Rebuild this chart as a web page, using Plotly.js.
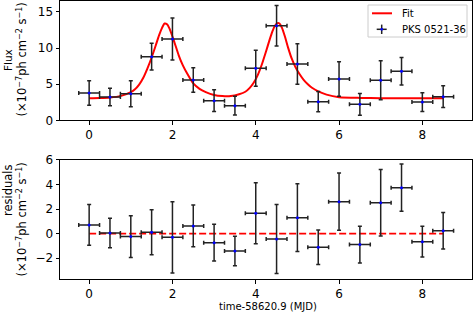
<!DOCTYPE html>
<html>
<head>
<meta charset="utf-8">
<script src="https://cdn.plot.ly/plotly-3.0.1.min.js"></script>
<style>html,body{margin:0;padding:0;background:#fff;}#chart{width:473px;height:313px;}</style>
</head>
<body>
<div id="chart"></div>
<script>
// ---- data ----
const timeX = [0, 0.5, 1, 1.5, 2, 2.5, 3, 3.5, 4, 4.5, 5, 5.5, 6, 6.5, 7, 7.5, 8, 8.5];
const timeErr = 0.25;
const flux = [3.78, 3.23, 3.69, 8.81, 11.26, 5.58, 2.72, 2.02, 7.2, 13.1, 7.8, 2.58, 5.72, 2.21, 5.54, 6.79, 2.53, 3.27];
const fluxErr = [1.7, 1.2, 1.8, 1.85, 2.9, 1.7, 1.5, 1.3, 2.5, 2.8, 2.8, 1.4, 2.4, 1.5, 2.7, 1.9, 1.3, 1.5];
const residuals = [0.71, 0.06, -0.24, 0.11, -0.3, 0.63, -0.73, -1.41, 1.66, -0.43, 1.3, -1.11, 2.6, -0.89, 2.52, 3.74, -0.65, 0.24];
const residErr = [1.66, 1.2, 1.7, 1.83, 2.9, 1.7, 1.5, 1.2, 2.47, 2.8, 2.75, 1.4, 2.33, 1.5, 2.7, 1.92, 1.25, 1.48];
const fitX = [0, 0.25, 0.5, 0.75, 1.0, 1.1, 1.2, 1.3, 1.4, 1.5, 1.6, 1.68, 1.75, 1.81, 1.87, 1.93, 2.0, 2.07, 2.15, 2.25, 2.35, 2.5, 2.65, 2.8, 3.0, 3.2, 3.4, 3.6, 3.75, 3.85, 3.95, 4.05, 4.15, 4.25, 4.33, 4.4, 4.46, 4.52, 4.57, 4.63, 4.7, 4.78, 4.86, 4.95, 5.05, 5.15, 5.25, 5.35, 5.5, 5.7, 6.0, 6.5, 7.0, 7.5, 8.0, 8.5];
const fitY = [3.05, 3.08, 3.15, 3.35, 3.9, 4.3, 4.95, 5.9, 7.2, 8.7, 10.4, 11.8, 12.8, 13.4, 13.3, 12.7, 11.6, 10.4, 9.0, 7.6, 6.5, 5.1, 4.35, 3.9, 3.5, 3.35, 3.35, 3.6, 3.95, 4.45, 5.2, 6.3, 7.8, 9.6, 11.1, 12.3, 13.1, 13.45, 13.4, 12.8, 11.6, 10.0, 8.6, 7.4, 6.4, 5.6, 5.0, 4.5, 4.0, 3.55, 3.2, 3.1, 3.07, 3.06, 3.05, 3.05];
const zeroX = [0, 8.5];
const zeroY = [0, 0];
const seriesName = 'PKS 0521-36';
const fitName = 'Fit';

// ---- style ----
const FONT = 'DejaVu Sans, sans-serif';
const ebColor = '#222222';
const errY = arr => ({type: 'data', array: arr, visible: true, color: ebColor, thickness: 1.5, width: 2});
const errX = {type: 'constant', value: timeErr, visible: true, color: ebColor, thickness: 1.5, width: 2};

const traces = [
  {x: fitX, y: fitY, type: 'scatter', mode: 'lines', name: fitName,
   line: {color: '#ff0000', width: 2, shape: 'spline', smoothing: 0.6}, xaxis: 'x', yaxis: 'y'},
  {x: timeX, y: flux, type: 'scatter', mode: 'markers', name: seriesName,
   marker: {color: '#0000ff', size: 3}, error_y: errY(fluxErr), error_x: errX, xaxis: 'x', yaxis: 'y'},
  {x: zeroX, y: zeroY, type: 'scatter', mode: 'lines',
   line: {color: '#ff0000', width: 1.6, dash: '7px,3px'}, xaxis: 'x2', yaxis: 'y2'},
  {x: timeX, y: residuals, type: 'scatter', mode: 'markers',
   marker: {color: '#0000ff', size: 3}, error_y: errY(residErr), error_x: errX, xaxis: 'x2', yaxis: 'y2'}
];

const W = 473, H = 313;
const px = v => v / W;
const py = v => (H - v) / H;

const axBase = {
  showline: true, mirror: true, linecolor: '#000', linewidth: 1,
  ticks: 'outside', ticklen: 3.5, tickwidth: 1, tickcolor: '#000',
  showgrid: false, zeroline: false,
  tickfont: {family: FONT, size: 12, color: '#000'}
};

const unitText = '(×10<sup>−7</sup>ph cm<sup>−2</sup> s<sup>−1</sup>)';

const layout = {
  width: W, height: H,
  margin: {l: 0, r: 0, t: 0, b: 0},
  paper_bgcolor: '#fff', plot_bgcolor: '#fff',
  showlegend: false,
  font: {family: FONT, color: '#000'},
  xaxis: Object.assign({}, axBase, {domain: [px(60), px(471.5)], range: [-0.7, 9.18], dtick: 2, tick0: 0, anchor: 'y'}),
  yaxis: Object.assign({}, axBase, {domain: [py(120.3), py(1)], range: [0, 16.52], tickvals: [0, 5, 10, 15], anchor: 'x'}),
  xaxis2: Object.assign({}, axBase, {domain: [px(60), px(471.5)], range: [-0.7, 9.18], dtick: 2, tick0: 0, anchor: 'y2'}),
  yaxis2: Object.assign({}, axBase, {domain: [py(279.3), py(159.5)], range: [-3.71, 6.03], tickvals: [-2, 0, 2, 4, 6], anchor: 'x2'}),
  annotations: [
    {text: 'Flux', x: px(8), y: py(60), xref: 'paper', yref: 'paper', textangle: -90, showarrow: false,
     xanchor: 'center', yanchor: 'middle', font: {family: FONT, size: 10.5}},
    {text: unitText, x: px(21.5), y: py(60), xref: 'paper', yref: 'paper', textangle: -90, showarrow: false,
     xanchor: 'center', yanchor: 'middle', font: {family: FONT, size: 11.5}},
    {text: 'residuals', x: px(8), y: py(190), xref: 'paper', yref: 'paper', textangle: -90, showarrow: false,
     xanchor: 'center', yanchor: 'middle', font: {family: FONT, size: 11.5}},
    {text: unitText, x: px(21.5), y: py(220), xref: 'paper', yref: 'paper', textangle: -90, showarrow: false,
     xanchor: 'center', yanchor: 'middle', font: {family: FONT, size: 11.5}},
    {text: 'time-58620.9 (MJD)', x: px(268), y: py(306.7), xref: 'paper', yref: 'paper', showarrow: false,
     xanchor: 'center', yanchor: 'middle', font: {family: FONT, size: 10}},
    {text: fitName, x: px(400), y: py(13.3), xref: 'paper', yref: 'paper', showarrow: false,
     xanchor: 'left', yanchor: 'middle', font: {family: FONT, size: 10}},
    {text: seriesName, x: px(400), y: py(29.5), xref: 'paper', yref: 'paper', showarrow: false,
     xanchor: 'left', yanchor: 'middle', font: {family: FONT, size: 10}}
  ],
  shapes: [
    // legend frame
    {type: 'rect', xref: 'paper', yref: 'paper', x0: px(368), x1: px(467), y0: py(37), y1: py(5),
     line: {color: '#cccccc', width: 1}, fillcolor: 'rgba(255,255,255,0.8)'},
    // legend: fit line sample
    {type: 'line', xref: 'paper', yref: 'paper', x0: px(372), x1: px(392), y0: py(13.3), y1: py(13.3),
     line: {color: '#ff0000', width: 2}},
    // legend: error bar sample
    {type: 'line', xref: 'paper', yref: 'paper', x0: px(376.7), x1: px(386.7), y0: py(29.3), y1: py(29.3),
     line: {color: ebColor, width: 1.5}},
    {type: 'line', xref: 'paper', yref: 'paper', x0: px(381.7), x1: px(381.7), y0: py(34), y1: py(24.6),
     line: {color: ebColor, width: 1.5}},
    {type: 'circle', xref: 'paper', yref: 'paper', x0: px(380.3), x1: px(383.1), y0: py(30.7), y1: py(27.9),
     line: {color: '#0000ff', width: 0}, fillcolor: '#0000ff'}
  ]
};

Plotly.newPlot('chart', traces, layout, {staticPlot: true, displayModeBar: false});
</script>
</body>
</html>
